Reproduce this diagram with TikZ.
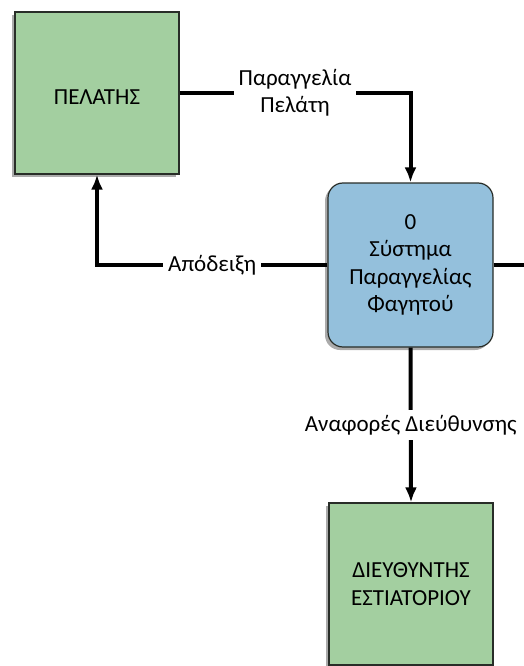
\documentclass[tikz,border=0pt]{standalone}
\usepackage{fontspec}
\setmainfont{Carlito}
\usepackage{tikz}
\usetikzlibrary{arrows.meta,shadows}
\definecolor{PrasinoOnt}{RGB}{163,207,160}
\definecolor{MpleDiad}{RGB}{148,192,220}
\definecolor{Perigr}{RGB}{40,45,40}

\tikzset{
  ontotita/.style={draw=Perigr,line width=1.2pt,fill=PrasinoOnt,
    minimum width=164pt,minimum height=162pt,align=center,
    execute at begin node={\rule{0pt}{24pt}},
    drop shadow={shadow xshift=-3pt,shadow yshift=-3pt,fill=black!55,opacity=.6}},
  diadikasia/.style={ontotita,fill=MpleDiad,rounded corners=15pt,
    execute at begin node={\rule{0pt}{30pt}},
    minimum width=165pt,minimum height=164pt},
  roi/.style={line width=4pt,black},
  etiketa/.style={fill=white,inner sep=5pt,align=center}
}

\begin{document}
\begin{tikzpicture}[x=1pt,y=-1pt,>={Latex[length=15pt,width=12pt]},
  font=\fontsize{23}{27.5}\selectfont]
  \useasboundingbox (0,0) rectangle (524,666);
  \node[ontotita] (pelatis) at (97,93) {ΠΕΛΑΤΗΣ};
  \node[diadikasia] (systima) at (410.5,265) {0\\Σύστημα\\Παραγγελίας\\Φαγητού};
  \node[ontotita] (diefth) at (411,584) {ΔΙΕΥΘΥΝΤΗΣ\\ΕΣΤΙΑΤΟΡΙΟΥ};
  \coordinate (exodos) at (526,265);

  \draw[roi,->] (pelatis.east) -| node[etiketa,pos=.25] {Παραγγελία\\Πελάτη} (systima.north);
  \draw[roi,->] (systima.west) -| node[etiketa,pos=.25] {Απόδειξη} (pelatis.south);
  \draw[roi,->] (systima.south) -- node[etiketa] {Αναφορές Διεύθυνσης} (diefth.north);
  \draw[roi] (systima.east) -- (exodos);
\end{tikzpicture}
\end{document}
